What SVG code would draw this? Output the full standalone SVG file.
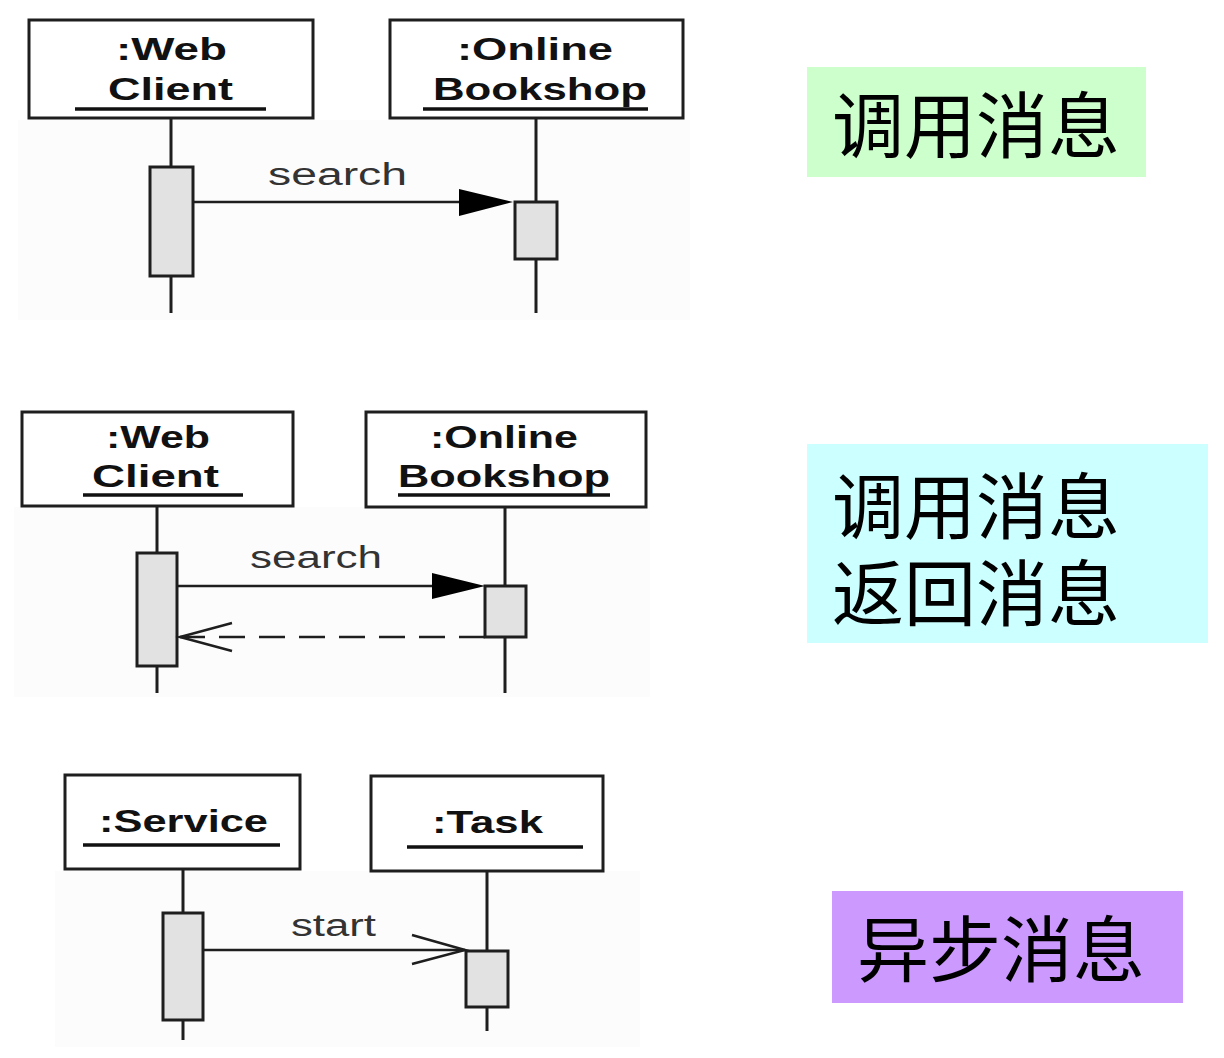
<svg xmlns="http://www.w3.org/2000/svg" width="1224" height="1058" viewBox="0 0 1224 1058">
<style>
.bg{fill:#fcfcfc}
.box{fill:#ffffff;stroke:#1e1e1e;stroke-width:3}
.act{fill:#e2e2e2;stroke:#1e1e1e;stroke-width:3}
.life{stroke:#1e1e1e;stroke-width:3;fill:none}
.ul{stroke:#111;stroke-width:3.5}
.lbl{font-family:"Liberation Sans",Arial,sans-serif;font-weight:bold;font-size:31px;fill:#111}
.msg{font-family:"Liberation Sans",Arial,sans-serif;font-size:31px;fill:#333}
.line{stroke:#1e1e1e;stroke-width:2.5;fill:none}
.dash{stroke:#1e1e1e;stroke-width:2.5;fill:none;stroke-dasharray:26 14}
.head{fill:#000}
.open{stroke:#1e1e1e;stroke-width:2.5;fill:none}
.cn{font-family:"Noto Sans CJK SC","Noto Sans CJK TC",sans-serif;font-size:72px;fill:#000}
</style>
<rect width="1224" height="1058" fill="#ffffff"/>
<rect class="bg" x="18" y="120" width="672" height="200"/>
<rect class="bg" x="14" y="507" width="636" height="190"/>
<rect class="bg" x="55" y="871" width="585" height="176"/>

<!-- Panel 1 -->
<g id="p1-webclient">
<rect class="box" x="29" y="20" width="284" height="98"/>
<text class="lbl" x="116" y="60" textLength="111" lengthAdjust="spacingAndGlyphs">:Web</text>
<text class="lbl" x="108" y="100" textLength="125" lengthAdjust="spacingAndGlyphs">Client</text>
<line class="ul" x1="75" y1="109" x2="266" y2="109"/>
<path class="life" d="M171 118V167M171 276V313"/>
<rect class="act" x="150" y="167" width="43" height="109"/>
</g>
<g id="p1-bookshop">
<rect class="box" x="390" y="20" width="293" height="98"/>
<text class="lbl" x="457" y="60" textLength="156" lengthAdjust="spacingAndGlyphs">:Online</text>
<text class="lbl" x="433" y="100" textLength="214" lengthAdjust="spacingAndGlyphs">Bookshop</text>
<line class="ul" x1="423" y1="109" x2="648" y2="109"/>
<path class="life" d="M536 118V202M536 259V313"/>
<rect class="act" x="515" y="202" width="42" height="57"/>
</g>

<!-- Panel 2 -->
<g id="p2-webclient">
<rect class="box" x="22" y="412" width="271" height="94"/>
<text class="lbl" x="106" y="448" textLength="104" lengthAdjust="spacingAndGlyphs">:Web</text>
<text class="lbl" x="92" y="487" textLength="127" lengthAdjust="spacingAndGlyphs">Client</text>
<line class="ul" x1="83" y1="495" x2="243" y2="495"/>
<path class="life" d="M157 506V553M157 666V693"/>
<rect class="act" x="137" y="553" width="40" height="113"/>
</g>
<g id="p2-bookshop">
<rect class="box" x="366" y="412" width="280" height="95"/>
<text class="lbl" x="430" y="448" textLength="148" lengthAdjust="spacingAndGlyphs">:Online</text>
<text class="lbl" x="398" y="487" textLength="212" lengthAdjust="spacingAndGlyphs">Bookshop</text>
<line class="ul" x1="398" y1="495" x2="610" y2="495"/>
<path class="life" d="M505 507V586M505 637V693"/>
<rect class="act" x="485" y="586" width="41" height="51"/>
</g>

<!-- Panel 3 -->
<g id="p3-service">
<rect class="box" x="65" y="775" width="235" height="94"/>
<text class="lbl" x="99" y="832" textLength="169" lengthAdjust="spacingAndGlyphs">:Service</text>
<line class="ul" x1="83" y1="845" x2="280" y2="845"/>
<path class="life" d="M183 869V913M183 1020V1040"/>
<rect class="act" x="163" y="913" width="40" height="107"/>
</g>
<g id="p3-task">
<rect class="box" x="371" y="776" width="232" height="95"/>
<text class="lbl" x="432" y="833" textLength="111" lengthAdjust="spacingAndGlyphs">:Task</text>
<line class="ul" x1="407" y1="847" x2="583" y2="847"/>
<path class="life" d="M487 871V951M487 1007V1031"/>
<rect class="act" x="466" y="951" width="42" height="56"/>
</g>

<!-- Connectors -->
<g id="connectors">
<line class="line" x1="193" y1="202" x2="462" y2="202"/>
<polygon class="head" points="459,189 513,202 459,216"/>
<text class="msg" x="268" y="185" textLength="139" lengthAdjust="spacingAndGlyphs">search</text>

<line class="line" x1="177" y1="586" x2="434" y2="586"/>
<polygon class="head" points="432,573 485,586 432,599"/>
<text class="msg" x="250" y="568" textLength="132" lengthAdjust="spacingAndGlyphs">search</text>
<line class="dash" x1="485" y1="637" x2="180" y2="637"/>
<polyline class="open" points="232,623 180,637 232,651"/>

<line class="line" x1="203" y1="950" x2="465" y2="950"/>
<polyline class="open" points="412,935 465,950 412,964"/>
<text class="msg" x="291" y="936" textLength="85" lengthAdjust="spacingAndGlyphs">start</text>
</g>

<!-- Legend labels -->
<g id="label-call">
<rect x="807" y="67" width="339" height="110" fill="#ccffcc"/>
<text class="cn" x="832" y="152">调用消息</text>
</g>
<g id="label-call-return">
<rect x="807" y="444" width="401" height="199" fill="#ccffff"/>
<text class="cn" x="832" y="533">调用消息</text>
<text class="cn" x="832" y="620">返回消息</text>
</g>
<g id="label-async">
<rect x="832" y="891" width="351" height="112" fill="#cc99ff"/>
<text class="cn" x="857" y="976">异步消息</text>
</g>
</svg>
